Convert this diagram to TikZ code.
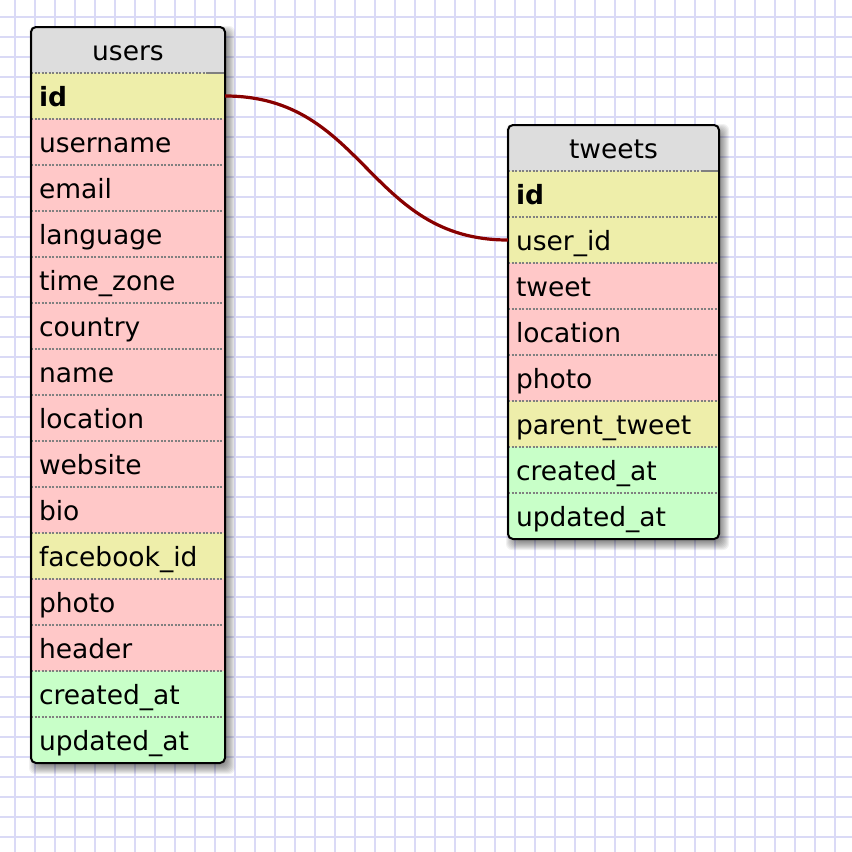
\documentclass[tikz,border=0pt]{standalone}
\usepackage{fontspec}
\setmainfont{DejaVu Sans}
\definecolor{gridc}{RGB}{218,218,246}
\definecolor{hdrc}{RGB}{221,221,221}
\definecolor{keyc}{RGB}{238,238,170}
\definecolor{fieldc}{RGB}{255,200,200}
\definecolor{timec}{RGB}{200,255,200}
\definecolor{linkc}{RGB}{136,0,0}
\definecolor{sepc}{RGB}{128,128,128}
\tikzset{
  gridline/.style={gridc, line width=2pt},
  row/.style={rectangle, inner xsep=8pt, inner ysep=0pt, minimum height=46pt,
    text height=25pt, text depth=5pt, align=left, font=\fontsize{26.5}{30}\selectfont},
  uw/.style={text width=178pt},
  tw/.style={text width=195pt},
  hdr/.style={row, fill=hdrc, align=center},
  key/.style={row, fill=keyc},
  field/.style={row, fill=fieldc},
  stamp/.style={row, fill=timec},
  sep/.style={sepc, line width=1.5pt, dash pattern=on 2pt off 1.5pt},
  border/.style={draw=black, line width=2pt, rounded corners=5pt},
  shadelayer/.style={fill=black, opacity=0.055, rounded corners=6pt},
  link/.style={linkc, line width=3.2pt}
}
\begin{document}
\begin{tikzpicture}[x=1pt,y=-1pt]
\useasboundingbox (0,0) rectangle (852,852);
\fill[white] (0,0) rectangle (852,852);
\foreach \x in {15,35,...,855} \draw[gridline] (\x,0) -- (\x,852);
\foreach \y in {16.5,36.5,...,852} \draw[gridline] (0,\y) -- (852,\y);

% shadows
\foreach \r in {-3,-2,...,6} {
  \fill[shadelayer] ({31+4-\r},{27+5-\r}) rectangle ({225+4+\r},{763+5+\r});
  \fill[shadelayer] ({508+4-\r},{125+5-\r}) rectangle ({719+4+\r},{539+5+\r});
}

% users table
\begin{scope}
\clip[rounded corners=5pt] (31,27) rectangle (225,763);
\node[hdr, uw] (u0) at (128,50) {users};
\node[key, uw] (u1) at (128,96) {\textbf{id}};
\node[field, uw] (u2) at (128,142) {username};
\node[field, uw] (u3) at (128,188) {email};
\node[field, uw] (u4) at (128,234) {language};
\node[field, uw] (u5) at (128,280) {time\_zone};
\node[field, uw] (u6) at (128,326) {country};
\node[field, uw] (u7) at (128,372) {name};
\node[field, uw] (u8) at (128,418) {location};
\node[field, uw] (u9) at (128,464) {website};
\node[field, uw] (u10) at (128,510) {bio};
\node[key, uw] (u11) at (128,556) {facebook\_id};
\node[field, uw] (u12) at (128,602) {photo};
\node[field, uw] (u13) at (128,648) {header};
\node[stamp, uw] (u14) at (128,694) {created\_at};
\node[stamp, uw] (u15) at (128,740) {updated\_at};
\foreach \y in {73,119,...,717} \draw[sep] (31,\y) -- (225,\y);
\draw[sepc, line width=1.5pt] (208,73) -- (225,73);
\end{scope}
\draw[border] (31,27) rectangle (225,763);

% tweets table
\begin{scope}
\clip[rounded corners=5pt] (508,125) rectangle (719,539);
\node[hdr, tw] (t0) at (613.5,148) {tweets};
\node[key, tw] (t1) at (613.5,194) {\textbf{id}};
\node[key, tw] (t2) at (613.5,240) {user\_id};
\node[field, tw] (t3) at (613.5,286) {tweet};
\node[field, tw] (t4) at (613.5,332) {location};
\node[field, tw] (t5) at (613.5,378) {photo};
\node[key, tw] (t6) at (613.5,424) {parent\_tweet};
\node[stamp, tw] (t7) at (613.5,470) {created\_at};
\node[stamp, tw] (t8) at (613.5,516) {updated\_at};
\foreach \y in {171,217,...,493} \draw[sep] (508,\y) -- (719,\y);
\draw[sepc, line width=1.5pt] (702,171) -- (719,171);
\end{scope}
\draw[border] (508,125) rectangle (719,539);

% relation
\draw[link] (u1.east) .. controls +(140,0) and +(-140,0) .. (t2.west);
\end{tikzpicture}
\end{document}
